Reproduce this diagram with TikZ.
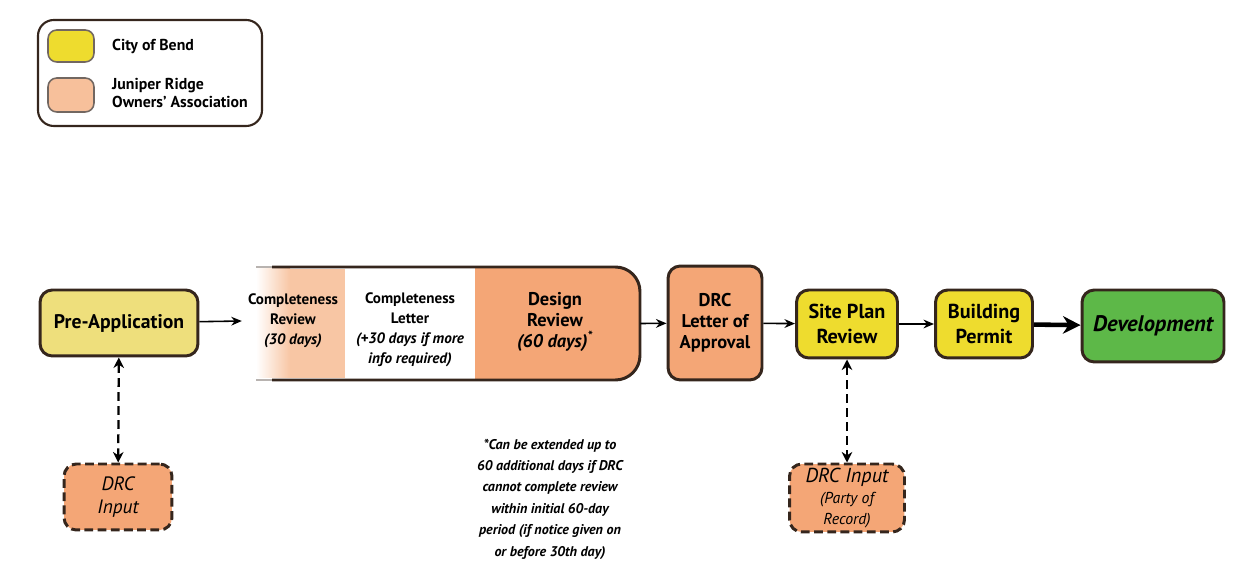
\documentclass[tikz,border=0pt]{standalone}
\usepackage{fontspec}
\setmainfont{PT Sans}
\usetikzlibrary{positioning,arrows.meta}
\definecolor{edge}{HTML}{35261D}
\definecolor{paleyellow}{HTML}{EEDF7C}
\definecolor{cityyellow}{HTML}{EEDC2E}
\definecolor{droorange}{HTML}{F4A676}
\definecolor{lightorange}{HTML}{F8C6A4}
\definecolor{devgreen}{HTML}{5DB848}
\tikzset{stagebox/.style={draw=edge,line width=1.7pt,rounded corners=7pt,
           align=center,inner sep=1pt,font=\bfseries\fontsize{10.5}{12}\selectfont},
         inputbox/.style={stagebox,fill=droorange,dash pattern=on 5pt off 2.5pt,
           font=\itshape\fontsize{11}{13}\selectfont},
         steptext/.style={align=center,font=\bfseries\fontsize{8.6}{11.4}\selectfont},
         swatch/.style={draw=edge!70,line width=0.9pt,rounded corners=5pt,
           minimum width=0.92cm,minimum height=0.64cm},
         flow/.style={-{Stealth[length=6pt,width=5pt]},line width=0.9pt,draw=black},
         link/.style={{Stealth[length=6pt,width=6pt]}-{Stealth[length=6pt,width=6pt]},
           line width=1.3pt,dash pattern=on 5pt off 3pt}}
\begin{document}
\begin{tikzpicture}[x=0.02cm,y=-0.02cm]
  \useasboundingbox (0,0) rectangle (1248,570);
  % legend
  \draw[edge,line width=1.2pt,rounded corners=9pt] (38,20) rectangle (262,126);
  \node[swatch,fill=cityyellow] (cityswatch) at (71,46) {};
  \node[swatch,fill=lightorange!80!droorange,minimum height=0.68cm] (assocswatch) at (71,95) {};
  \node[anchor=west,font=\bfseries\fontsize{9}{10.5}\selectfont] (citylabel)
    at (106,46) {City of Bend};
  \node[anchor=west,align=left,font=\bfseries\fontsize{9}{10.5}\selectfont] (assoclabel)
    at (106,93) {Juniper Ridge\\Owners' Association};
  % review block
  \shade[left color=white,right color=lightorange] (256,269) rectangle (290,378);
  \fill[lightorange] (290,269) rectangle (345,378);
  \begin{scope}
    \clip (475,255) rectangle (660,395);
    \fill[droorange,rounded corners=14pt] (262,267) rectangle (640,380);
  \end{scope}
  \draw[edge!35,line width=1.7pt] (256,267) -- (272,267) (256,380) -- (272,380);
  \draw[edge,line width=1.7pt,rounded corners=14pt] (272,267) -- (640,267) -- (640,380) -- (272,380);
  \node[minimum width=8.04cm,minimum height=2.26cm] (review) at (439,323.5) {};
  \node[steptext] (compreview) at (293,321)
    {Completeness\\Review\\{\itshape (30 days)}};
  \node[steptext] (completter) at (410,330)
    {Completeness\\Letter\\{\itshape (+30 days if more}\\{\itshape info required)}};
  \node[steptext,font=\bfseries\fontsize{10.5}{12}\selectfont] (design) at (555,322)
    {Design\\Review\\{\itshape (60 days)\textsuperscript{*}}};
  % stages
  \node[stagebox,fill=paleyellow,minimum width=3.16cm,minimum height=1.32cm,
    font=\bfseries\fontsize{11.2}{13}\selectfont] (preapp)
    at (119,323) {Pre-Application};
  \node[stagebox,fill=droorange,minimum width=1.88cm,minimum height=2.28cm] (drcletter)
    at (715,323) {DRC\\Letter of\\Approval};
  \node[stagebox,fill=cityyellow,minimum width=2.02cm,minimum height=1.36cm,
    font=\bfseries\fontsize{11.5}{14.5}\selectfont] (siteplan)
    at (847,324) {Site Plan\\Review};
  \node[stagebox,fill=cityyellow,minimum width=1.94cm,minimum height=1.36cm,
    font=\bfseries\fontsize{11.5}{14.5}\selectfont] (permit)
    at (984,324) {Building\\Permit};
  \node[stagebox,fill=devgreen,minimum width=2.84cm,minimum height=1.44cm,
    font=\bfseries\itshape\fontsize{12.8}{14}\selectfont] (devel)
    at (1153,326) {Development};
  % DRC input
  \node[inputbox,minimum width=2.16cm,minimum height=1.32cm] (drcinA)
    at (118,497) {DRC\\Input};
  \node[inputbox,minimum width=2.3cm,minimum height=1.36cm,
    font=\itshape\fontsize{11.5}{12}\selectfont] (drcinB)
    at (847,498) {DRC Input\\{\fontsize{9}{11}\selectfont(Party of}\\{\fontsize{9}{11}\selectfont Record)}};
  % footnote
  \node[align=center,font=\bfseries\itshape\fontsize{8}{12.2}\selectfont] (note) at (550,499)
    {*Can be extended up to\\60 additional days if DRC\\cannot complete review\\within initial 60-day\\period (if notice given on\\or before 30th day)};
  % connectors
  \draw[flow] (preapp) -- (compreview.west);
  \draw[flow] (review.east) -- (drcletter);
  \draw[flow] (drcletter) -- (siteplan);
  \draw[flow] (siteplan) -- (permit);
  \draw[-{Stealth[length=10pt,width=10pt]},line width=2.6pt] (permit) -- (devel);
  \draw[link] (preapp) -- (drcinA);
  \draw[link] (siteplan) -- (drcinB);
\end{tikzpicture}
\end{document}
